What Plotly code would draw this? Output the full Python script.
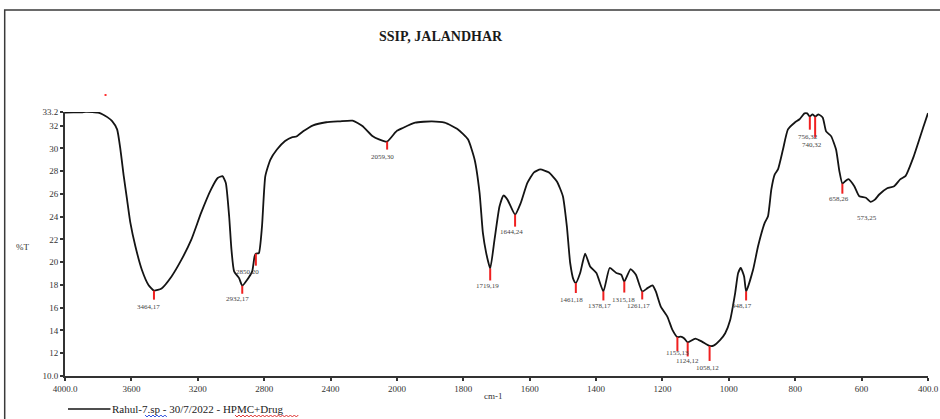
import numpy as np
import plotly.graph_objects as go

# ---- FTIR spectrum: wavenumber (cm-1) and transmittance (%T) ----
wavenumber = [
    4000, 3950, 3900, 3874, 3835, 3800, 3775, 3745, 3716, 3686, 3666, 3646, 3626, 3606,
    3576, 3537, 3497, 3464, 3418, 3358, 3299, 3239, 3180, 3120, 3080, 3051, 3031, 3011,
    2997, 2981, 2951, 2932, 2902, 2872, 2858, 2850, 2832, 2813, 2793, 2763, 2723, 2674,
    2630, 2605, 2565, 2505, 2426, 2347, 2267, 2208, 2148, 2108, 2059, 2010, 1985, 1945,
    1895, 1856, 1816, 1786, 1766, 1751, 1741, 1731, 1719, 1706, 1691, 1679, 1667, 1644,
    1627, 1607, 1587, 1568, 1543, 1518, 1500, 1488, 1478, 1468, 1461, 1448, 1433, 1418,
    1399, 1378, 1359, 1339, 1324, 1315, 1296, 1280, 1261, 1245, 1230, 1220, 1205, 1185,
    1170, 1155, 1145, 1135, 1124, 1101, 1081, 1058, 1046, 1026, 1011, 996, 981, 972,
    964, 954, 948, 927, 912, 892, 882, 872, 862, 852, 837, 822, 802, 787,
    772, 764, 756, 748, 740, 730, 717, 707, 692, 677, 667, 658, 650, 640,
    622, 607, 587, 573, 560, 547, 523, 502, 483, 468, 443, 413, 400,
]
transmittance = [
    33.15, 33.17, 33.18, 33.22, 33.2, 33.15, 33.0, 32.75, 32.4, 31.67, 29.9, 27.56, 25.5, 23.45,
    21.4, 19.34, 18.0, 17.5, 17.7, 18.75, 20.2, 21.98, 24.33, 26.4, 27.4, 27.56, 26.97, 24.04,
    21.1, 19.19, 18.6, 17.93, 18.46, 19.19, 20.5, 20.75, 20.8, 23.15, 27.56, 29.0, 29.9, 30.65,
    31.0, 31.05, 31.5, 32.03, 32.3, 32.38, 32.44, 31.97, 31.1, 30.8, 30.6, 31.4, 31.76, 32.26,
    32.38, 32.26, 31.67, 30.8, 29.03, 26.1, 22.57, 20.8, 19.45, 21.98, 24.9, 25.86, 25.5, 24.18,
    25.2, 26.97, 27.9, 28.15, 27.9, 27.1, 25.8, 23.15, 19.93, 18.46, 18.17, 19.05, 20.75, 19.63,
    19.05, 17.43, 19.49, 19.05, 18.9, 18.3, 19.4, 18.9, 17.43, 17.72, 17.96, 17.43, 16.1, 15.2,
    14.05, 13.42, 13.46, 13.32, 12.95, 13.29, 13.02, 12.64, 12.67, 13.17, 13.76, 14.93, 17.29, 19.05,
    19.49, 18.75, 17.43, 19.34, 21.4, 23.45, 24.04, 26.4, 27.7, 28.15, 29.9, 31.67, 32.26, 32.56,
    33.08, 33.08, 32.79, 33.0, 32.79, 33.0, 32.7, 31.5, 31.08, 29.9, 28.0, 26.9, 27.1, 27.3,
    26.68, 25.8, 25.66, 25.3, 25.5, 25.95, 26.5, 26.68, 27.3, 27.56, 29.3, 31.97, 33.1,
]

peak_wavenumbers = [3464, 2932, 2850, 2059, 1719, 1644, 1461, 1378, 1315, 1261,
                    1155, 1124, 1058, 948, 756, 740, 658, 573]

# Axis tick labels
x_left_ticks = [4000, 3600, 3200, 2800, 2400, 2000]
x_left_text = ["4000.0", "3600", "3200", "2800", "2400", "2000"]
x_right_ticks = [1800, 1600, 1400, 1200, 1000, 800, 600, 400]
x_right_text = ["1800", "1600", "1400", "1200", "1000", "800", "600", "400.0"]
y_ticks = [10, 12, 14, 16, 18, 20, 22, 24, 26, 28, 30, 32, 33.2]
y_text = ["10.0", "12", "14", "16", "18", "20", "22", "24", "26", "28", "30", "32", "33.2"]

title_text = "SSIP, JALANDHAR"
series_name = "Rahul-7.sp - 30/7/2022 - HPMC+Drug"

# ---- layout geometry ----
W, H = 940, 419
ML, MR, MT, MB = 65, 2, 112, 43
PW, PH = W - ML - MR, H - MT - MB
SERIF = "Liberation Serif, Times New Roman, serif"


def paper_x(px):
    return (px - ML) / PW


def paper_y(py):
    return (H - MB - py) / PH


# Marker tick length (px), label x shift (px), label gap (px) for each peak
peak_style = {
    3464: (9, -5, 2), 2932: (8, -5, 0), 2850: (12, -8, 1), 2059: (8, -5, 2),
    1719: (12, -3, 1), 1644: (12, -4, 0), 1461: (10, -4, 2), 1378: (9, -4, 1),
    1315: (11, -1, 2), 1261: (8, -4, 2), 1155: (14, 0, -3), 1124: (14, 0, 0),
    1058: (15, -2, 2), 948: (9, -4, 1), 756: (13, -2, 2), 740: (21, -3, 2),
    658: (10, -3, 0), 573: (0, -4, 11),
}

wn = np.array(wavenumber, dtype=float)
tr = np.array(transmittance, dtype=float)
peak_t = np.interp(peak_wavenumbers, wn[::-1], tr[::-1])

fig = go.Figure()
# The wavenumber axis is split at 2000 cm-1 (compressed above, expanded below):
# the same spectrum is drawn on both halves and each half clips to its range.
for xa in ("x", "x2"):
    fig.add_trace(go.Scatter(
        x=wn, y=tr, mode="lines", xaxis=xa, yaxis="y",
        line=dict(color="#141414", width=1.8, shape="spline", smoothing=0.5),
        showlegend=False, hoverinfo="x+y",
    ))

shapes = []
annotations = []
for w, t in zip(peak_wavenumbers, peak_t):
    xref = "x" if w > 2000 else "x2"
    tick, dx, gap = peak_style[w]
    if tick > 0:
        shapes.append(dict(
            type="line", xref=xref, yref="y", ysizemode="pixel", yanchor=float(t),
            x0=w, x1=w, y0=0, y1=-tick, line=dict(color="#f02020", width=2),
        ))
    annotations.append(dict(
        x=w, y=float(t), xref=xref, yref="y", text=f"{w},{int(t)}",
        showarrow=False, xanchor="center", yanchor="top",
        xshift=dx, yshift=-(tick + gap), borderpad=0,
        font=dict(family=SERIF, size=7, color="#444444"),
    ))

# Title, axis captions and series caption
annotations += [
    dict(x=paper_x(445.5), y=paper_y(37), xref="paper", yref="paper",
         text=f"<b>{title_text}</b>", showarrow=False, xanchor="center", yanchor="middle",
         font=dict(family=SERIF, size=14, color="#1a1a1a")),
    dict(x=paper_x(22), y=paper_y(247), xref="paper", yref="paper", text="%T",
         showarrow=False, xanchor="center", yanchor="middle",
         font=dict(family=SERIF, size=9, color="#333333")),
    dict(x=paper_x(498), y=paper_y(396), xref="paper", yref="paper", text="cm-1",
         showarrow=False, xanchor="center", yanchor="middle",
         font=dict(family=SERIF, size=9, color="#333333")),
    dict(x=paper_x(111), y=paper_y(409), xref="paper", yref="paper", text=series_name,
         showarrow=False, xanchor="left", yanchor="middle",
         font=dict(family=SERIF, size=11, color="#222222")),
]

# Outer chart frame
shapes.append(dict(type="rect", xref="paper", yref="paper",
                   x0=paper_x(4), x1=paper_x(990), y0=paper_y(470), y1=paper_y(10),
                   line=dict(color="#3a3a3a", width=1.5), layer="below"))
# Series swatch
shapes.append(dict(type="line", xref="paper", yref="paper",
                   x0=paper_x(68), x1=paper_x(111), y0=paper_y(409), y1=paper_y(409),
                   line=dict(color="#141414", width=1.5)))
# Small red marker near the top-left
shapes.append(dict(type="rect", xref="paper", yref="paper",
                   x0=paper_x(105), x1=paper_x(107), y0=paper_y(96), y1=paper_y(94),
                   line=dict(width=0), fillcolor="#ff3030"))


def squiggle(x0, x1, py, color):
    pts = []
    n = int((x1 - x0) / 2)
    for i in range(n + 1):
        px = x0 + i * 2
        yy = py + (1 if i % 2 else -1)
        pts.append(f"{paper_x(px):.5f},{paper_y(yy):.5f}")
    return dict(type="path", xref="paper", yref="paper",
                path="M" + " L".join(pts), line=dict(color=color, width=1))


shapes.append(squiggle(146, 168, 416, "#3050e0"))
shapes.append(squiggle(237, 302, 416, "#e03030"))

axis_common = dict(
    showgrid=False, zeroline=False, showline=True, linecolor="#333333", linewidth=2,
    ticks="outside", ticklen=3, tickwidth=1.5, tickcolor="#333333",
    tickfont=dict(family=SERIF, size=9, color="#333333"),
)

fig.update_layout(
    width=W, height=H,
    margin=dict(l=ML, r=MR, t=MT, b=MB, pad=0),
    paper_bgcolor="white", plot_bgcolor="white",
    showlegend=False,
    xaxis=dict(domain=[0, 5 / 13], range=[4000, 2000], anchor="y",
               tickmode="array", tickvals=x_left_ticks, ticktext=x_left_text, **axis_common),
    xaxis2=dict(domain=[5 / 13, 1], range=[2000, 400], anchor="y",
                tickmode="array", tickvals=x_right_ticks, ticktext=x_right_text, **axis_common),
    yaxis=dict(domain=[0, 1], range=[10, 33.2], anchor="x",
               tickmode="array", tickvals=y_ticks, ticktext=y_text, **axis_common),
    shapes=shapes,
    annotations=annotations,
)

fig.write_html("out.html")
